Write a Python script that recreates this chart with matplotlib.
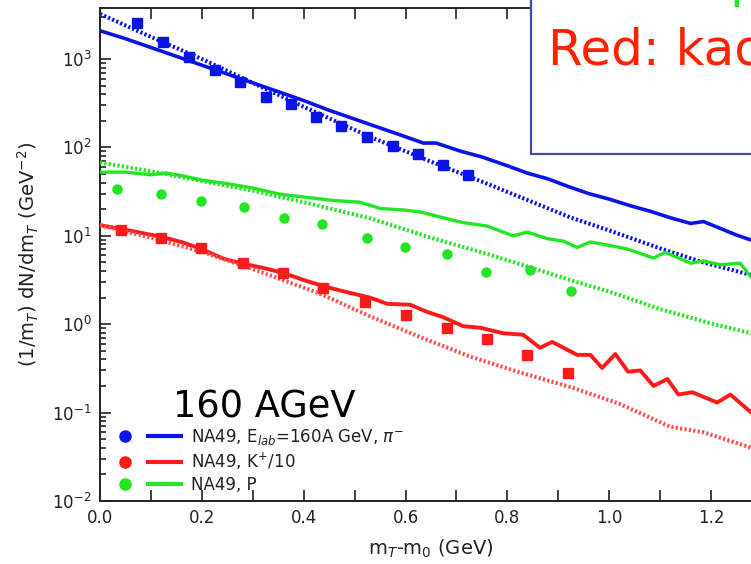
import numpy as np
import matplotlib
matplotlib.use("Agg")
import matplotlib.pyplot as plt
from matplotlib.lines import Line2D
from matplotlib.legend_handler import HandlerTuple
from matplotlib.patches import Rectangle
from matplotlib.ticker import MultipleLocator, LogLocator, NullFormatter

plt.rcParams['font.family'] = ['DejaVu Sans']
plt.rcParams['mathtext.fontset'] = 'dejavusans'

# pi- (blue)
pi_x = [0.073, 0.124, 0.175, 0.226, 0.275, 0.326, 0.375, 0.424, 0.474, 0.524, 0.575, 0.625, 0.674, 0.723]
pi_y = [2560, 1560, 1050, 750, 550, 370, 310, 220, 173, 131, 104, 85, 63, 49]
pi_sol_x = [0.0, 0.05, 0.1, 0.15, 0.2, 0.25, 0.3, 0.35, 0.4, 0.45, 0.5, 0.55, 0.6, 0.635, 0.66, 0.707,
            0.75, 0.8, 0.84, 0.88, 0.92, 0.96, 1.0, 1.04, 1.08, 1.12, 1.16, 1.185, 1.22, 1.25, 1.28, 1.3]
pi_sol_y = [2089, 1698, 1349, 1072, 851, 676, 537, 427, 339, 263, 209, 166, 132, 112, 112, 91,
            78, 62, 51, 44, 36, 30, 26, 22, 19, 16, 13.8, 14.5, 12, 10.2, 8.9, 8.3]
pi_dot_x = [0.0, 0.1, 0.2, 0.3, 0.4, 0.53, 0.65, 0.75, 0.85, 0.923, 1.0, 1.1, 1.185, 1.279, 1.3]
pi_dot_y = [3236, 1778, 1000, 537, 288, 132, 69, 41, 24, 16.2, 11.5, 7.2, 5.0, 3.6, 3.4]

# protons (green)
p_x = [0.034, 0.12, 0.198, 0.283, 0.362, 0.436, 0.524, 0.599, 0.681, 0.758, 0.845, 0.925]
p_y = [34, 30, 25, 21, 16, 13.5, 9.5, 7.4, 6.3, 3.9, 4.1, 2.4]
p_sol_x = [0.0, 0.05, 0.1, 0.13, 0.16, 0.2, 0.25, 0.3, 0.354, 0.4, 0.458, 0.51, 0.55, 0.6, 0.629, 0.67,
           0.713, 0.76, 0.811, 0.839, 0.878, 0.91, 0.937, 0.963, 1.0, 1.035, 1.087, 1.11, 1.16, 1.185,
           1.218, 1.257, 1.279, 1.3]
p_sol_y = [52.5, 52.5, 49, 51.3, 47.9, 42.7, 38.9, 34.7, 29.5, 27.5, 25.1, 24.0, 20.4, 19.5, 18.6, 16.2,
           14.1, 12.9, 10.0, 11.0, 9.3, 8.7, 7.4, 8.5, 7.8, 7.1, 5.6, 6.5, 4.9, 5.2,
           4.7, 4.9, 3.4, 2.8]
p_dot_x = [0.0, 0.1, 0.2, 0.3, 0.4, 0.53, 0.65, 0.75, 0.845, 0.923, 1.0, 1.1, 1.2, 1.279, 1.3]
p_dot_y = [67.6, 53.7, 41.7, 32.4, 24.0, 15.8, 9.5, 6.5, 4.4, 3.16, 2.34, 1.48, 1.02, 0.79, 0.74]

# K+/10 (red)
k_x = [0.042, 0.12, 0.198, 0.28, 0.359, 0.438, 0.521, 0.601, 0.681, 0.76, 0.839, 0.919]
k_y = [11.7, 9.4, 7.3, 4.9, 3.8, 2.6, 1.8, 1.26, 0.91, 0.68, 0.45, 0.28]
k_sol_x = [0.0, 0.05, 0.118, 0.16, 0.196, 0.243, 0.283, 0.323, 0.36, 0.4, 0.438, 0.48, 0.53, 0.564,
           0.609, 0.642, 0.674, 0.713, 0.747, 0.792, 0.831, 0.864, 0.888, 0.937, 0.963, 0.986, 1.012,
           1.037, 1.061, 1.087, 1.114, 1.136, 1.163, 1.212, 1.238, 1.279, 1.3]
k_sol_y = [13.2, 11.7, 9.8, 8.5, 7.2, 5.5, 4.8, 4.3, 3.8, 3.16, 2.7, 2.34, 2.0, 1.70,
           1.66, 1.38, 1.20, 0.95, 0.91, 0.79, 0.76, 0.54, 0.63, 0.45, 0.45, 0.32, 0.46,
           0.29, 0.30, 0.20, 0.24, 0.16, 0.17, 0.13, 0.16, 0.10, 0.079]
k_dot_x = [0.0, 0.1, 0.2, 0.3, 0.43, 0.53, 0.63, 0.727, 0.82, 0.923, 1.02, 1.12, 1.185, 1.279, 1.3]
k_dot_y = [13.2, 9.5, 6.6, 4.2, 2.24, 1.23, 0.71, 0.43, 0.29, 0.195, 0.126, 0.069, 0.060, 0.040, 0.035]

labels = [r'NA49, E$_{lab}$=160A GeV, $\pi^{-}$', r'NA49, K$^{+}$/10', 'NA49, P']

blue = '#0a14e8'
red = '#ff1a1a'
green = '#22e622'

fig = plt.figure(figsize=(7.51, 5.64), dpi=100)
ax = fig.add_axes([100 / 751, 63 / 564, 662 / 751, 493 / 564])

dots = (0, (0.55, 0.55))
ax.plot(pi_sol_x, pi_sol_y, color=blue, lw=2.6, zorder=3)
ax.plot(pi_dot_x, pi_dot_y, color=blue, lw=2.9, ls=dots, zorder=3)
ax.plot(pi_x, pi_y, 's', color=blue, ms=6.5, zorder=4)

ax.plot(p_sol_x, p_sol_y, color=green, lw=2.4, zorder=3)
ax.plot(p_dot_x, p_dot_y, color=green, lw=2.9, ls=dots, zorder=3)
ax.plot(p_x, p_y, 'o', color=green, ms=6.5, zorder=4)

ax.plot(k_sol_x, k_sol_y, color=red, lw=2.8, zorder=3)
ax.plot(k_dot_x, k_dot_y, color='#ff5050', lw=2.9, ls=dots, zorder=3)
ax.plot(k_x, k_y, 's', color=red, ms=6.5, zorder=4)

ax.set_yscale('log')
ax.set_xlim(0, 1.3)
ax.set_ylim(1e-2, 10 ** 3.577)

ax.xaxis.set_major_locator(MultipleLocator(0.2))
ax.xaxis.set_minor_locator(MultipleLocator(0.1))
ax.xaxis.set_major_formatter(matplotlib.ticker.FormatStrFormatter('%.1f'))
ax.yaxis.set_major_locator(LogLocator(base=10, numticks=10))
ax.yaxis.set_minor_locator(LogLocator(base=10, subs=np.arange(2, 10), numticks=10))
ax.yaxis.set_minor_formatter(NullFormatter())
ax.tick_params(which='both', direction='in', top=True, right=True, width=1.2,
               labelsize=12, colors='#222222', pad=6)
ax.tick_params(which='major', length=8)
ax.tick_params(axis='x', which='minor', length=8)
ax.tick_params(axis='y', which='minor', length=4)
for s in ax.spines.values():
    s.set_linewidth(1.4)
    s.set_color('#222222')

ax.set_xlabel(r'm$_T$-m$_0$ (GeV)', fontsize=14, color='#222222', labelpad=2)
ax.set_ylabel(r'(1/m$_T$) dN/dm$_T$ (GeV$^{-2}$)', fontsize=14, color='#222222', labelpad=8)
ax.xaxis.set_label_coords((431 - 100) / 662, -0.075)

ax.text(173, 564 - 418, '160 AGeV', transform=None, fontsize=26.5, color='black')

handles = []
for c in (blue, red, green):
    handles.append((Line2D([], [], marker='o', ls='none', color=c, ms=8),
                    Line2D([], [], color=c, lw=3)))
leg = ax.legend(handles, labels, handler_map={tuple: HandlerTuple(ndivide=None, pad=0.36)},
                loc='upper left', bbox_to_anchor=(108 / 751, (564 - 427) / 564),
                bbox_transform=fig.transFigure, frameon=False, fontsize=12,
                handlelength=4.4, handletextpad=0.6, labelspacing=0.22,
                borderpad=0, borderaxespad=0)
for t in leg.get_texts():
    t.set_color('#222222')

box = Rectangle((531 / 751, (564 - 154) / 564), 0.5, 0.5, transform=fig.transFigure,
                facecolor='white', edgecolor='#4848aa', lw=1.6, zorder=5)
fig.add_artist(box)
fig.text(546 / 751, 567 / 564, 'Green: protons', fontsize=36, color=green, zorder=6)
fig.text(548 / 751, (564 - 64) / 564, 'Red: kaons', fontsize=36, color='#ff2200', zorder=6)

fig.savefig('out.png', dpi=100)
